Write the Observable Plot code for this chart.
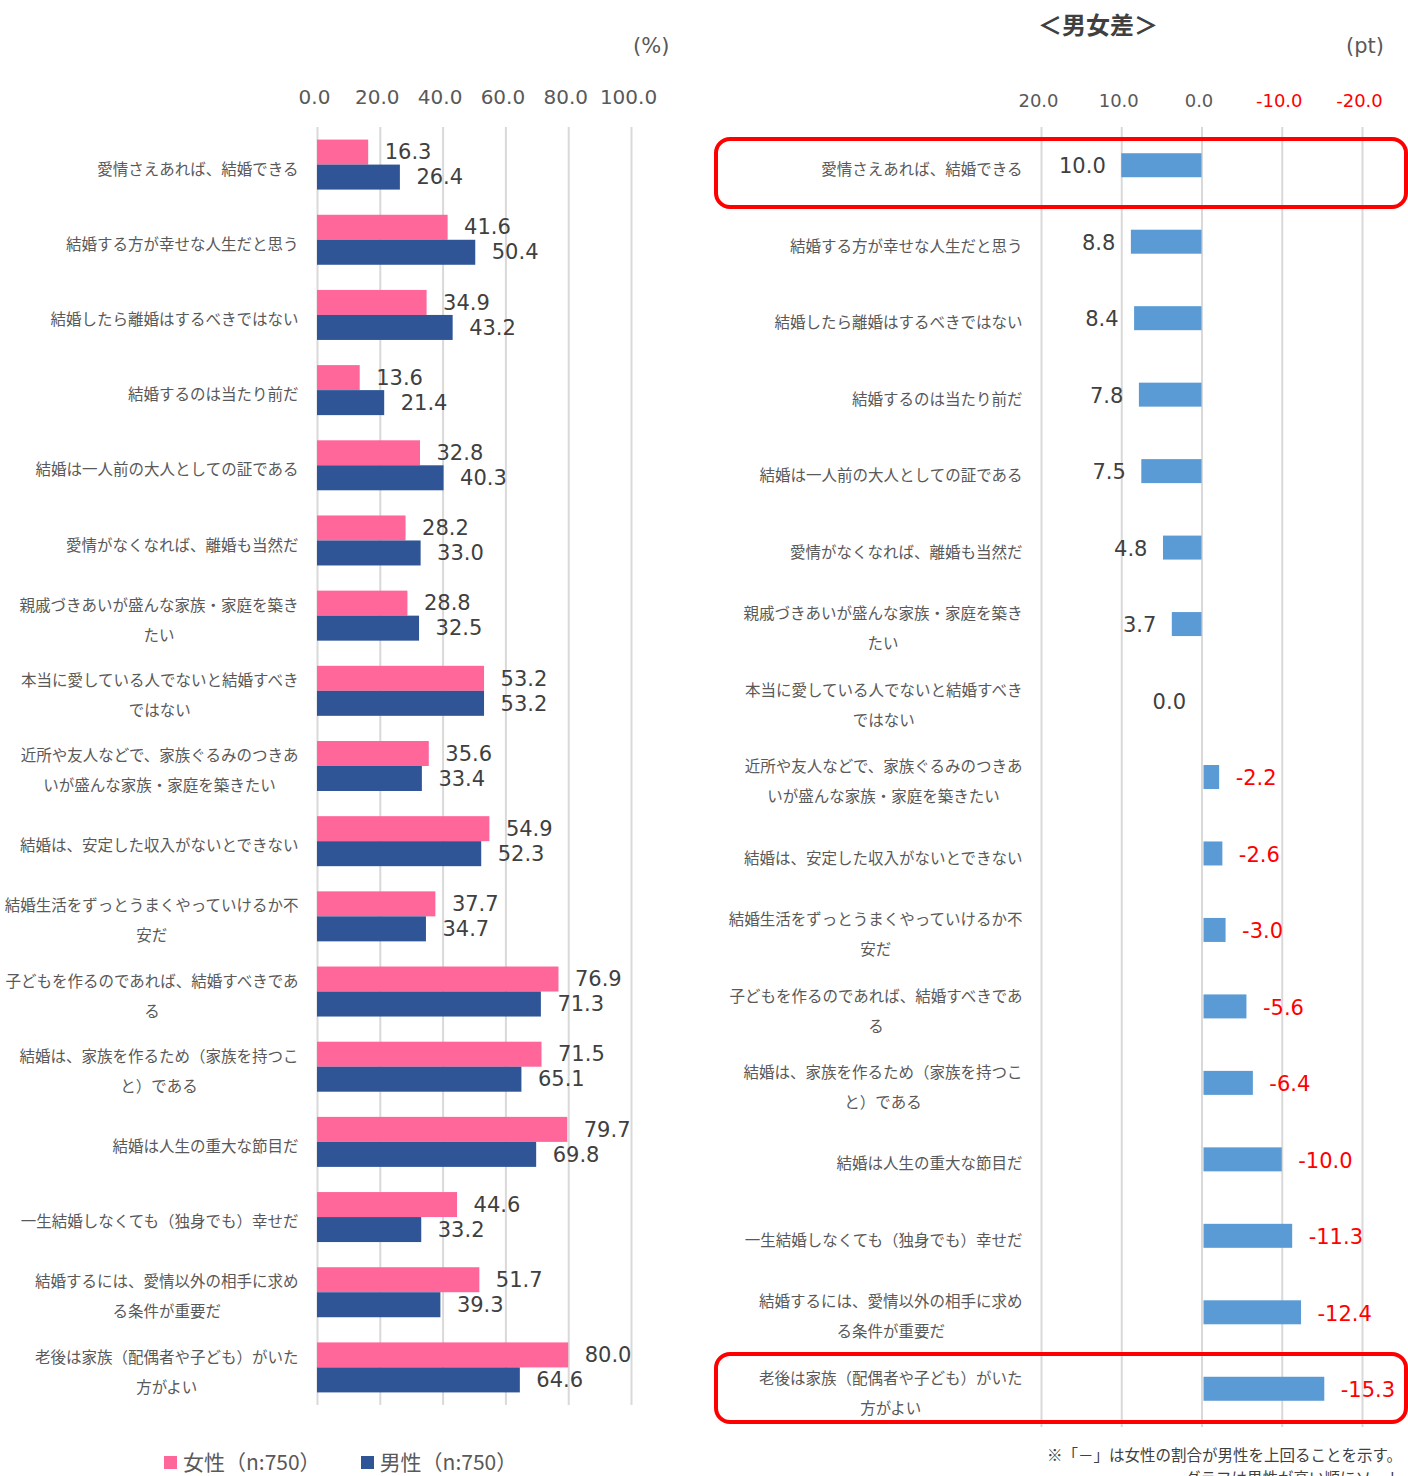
<!DOCTYPE html>
<html>
<head>
<meta charset="utf-8">
<script src="https://cdn.jsdelivr.net/npm/d3@7"></script>
<script src="https://cdn.jsdelivr.net/npm/@observablehq/plot@0.6"></script>
<style>
  html, body { margin: 0; padding: 0; background: #ffffff; }
  #root { position: relative; width: 1408px; height: 1476px; overflow: hidden; background: #fff;
          font-family: "Noto Sans CJK JP", "Noto Sans", sans-serif; color: #595959; }
  .abs { position: absolute; white-space: nowrap; }
  .sw { display: inline-block; width: 13px; height: 13px; margin-right: 6px; vertical-align: 1px; }
</style>
</head>
<body>
<div id="root">
  <div class="abs" style="left:633px; top:33px; font-size:21px; line-height:26px; font-family:'DejaVu Sans'; color:#595959;">(%)</div>
  <div class="abs" style="left:1000px; width:196px; text-align:center; top:6px; font-size:24px; font-weight:bold; color:#404040;">＜男女差＞</div>
  <div class="abs" style="left:1346px; top:33px; font-size:21px; line-height:26px; font-family:'DejaVu Sans'; color:#595959;">(pt)</div>
  <div id="left" class="abs" style="left:0; top:0;"></div>
  <div id="right" class="abs" style="left:700px; top:0;"></div>
  <div class="abs" style="left:164px; top:1449px; font-size:21px; line-height:24px; color:#595959;">
    <span class="sw" style="background:#FF6699"></span>女性（n:750）<span style="display:inline-block;width:40px"></span><span class="sw" style="background:#2F5597"></span>男性（n:750）
  </div>
  <div class="abs" style="right:6px; top:1443px; font-size:15.5px; line-height:23px; color:#404040; text-align:right;">※「－」は女性の割合が男性を上回ることを示す。<br>グラフは男性が高い順にソート</div>
</div>
<script>
// ---- data ----
const categories = [
  "愛情さえあれば、結婚できる",
  "結婚する方が幸せな人生だと思う",
  "結婚したら離婚はするべきではない",
  "結婚するのは当たり前だ",
  "結婚は一人前の大人としての証である",
  "愛情がなくなれば、離婚も当然だ",
  "親戚づきあいが盛んな家族・家庭を築き\nたい",
  "本当に愛している人でないと結婚すべき\nではない",
  "近所や友人などで、家族ぐるみのつきあ\nいが盛んな家族・家庭を築きたい",
  "結婚は、安定した収入がないとできない",
  "結婚生活をずっとうまくやっていけるか不\n安だ",
  "子どもを作るのであれば、結婚すべきであ\nる",
  "結婚は、家族を作るため（家族を持つこ\nと）である",
  "結婚は人生の重大な節目だ",
  "一生結婚しなくても（独身でも）幸せだ",
  "結婚するには、愛情以外の相手に求め\nる条件が重要だ",
  "老後は家族（配偶者や子ども）がいた\n方がよい"
];
const female = [16.3, 41.6, 34.9, 13.6, 32.8, 28.2, 28.8, 53.2, 35.6, 54.9, 37.7, 76.9, 71.5, 79.7, 44.6, 51.7, 80.0];
const male   = [26.4, 50.4, 43.2, 21.4, 40.3, 33.0, 32.5, 53.2, 33.4, 52.3, 34.7, 71.3, 65.1, 69.8, 33.2, 39.3, 64.6];
const diff   = [10.0, 8.8, 8.4, 7.8, 7.5, 4.8, 3.7, 0.0, -2.2, -2.6, -3.0, -5.6, -6.4, -10.0, -11.3, -12.4, -15.3];
const leftTicks  = [0, 20, 40, 60, 80, 100];
const rightTicks = [20, 10, 0, -10, -20];
const highlighted = [categories[0], categories[16]];

const PINK = "#FF6699", NAVY = "#2F5597", BLUE = "#5B9BD5";
const rows = categories.map((c, i) => ({cat: c, female: female[i], male: male[i], diff: diff[i]}));
const fmt = d => d.toFixed(1);
const numFont = "DejaVu Sans";
const cjkFont = "Noto Sans CJK JP";

// ---- left chart ----
const bandL = (1405 - 127) / categories.length;
const left = Plot.plot({
  width: 700, height: 1420,
  marginLeft: 317, marginRight: 69, marginTop: 127, marginBottom: 15,
  style: {background: "transparent", overflow: "visible"},
  x: {domain: [leftTicks[0], leftTicks[leftTicks.length - 1]], axis: null},
  y: {domain: categories, padding: 0, round: false, axis: null},
  marks: [
    Plot.gridX(leftTicks, {stroke: "#d9d9d9", strokeWidth: 2, strokeOpacity: 1}),
    Plot.barX(rows, {y: "cat", x: "female", fill: PINK, insetTop: bandL / 2 - 25, insetBottom: bandL / 2}),
    Plot.barX(rows, {y: "cat", x: "male", fill: NAVY, insetTop: bandL / 2, insetBottom: bandL / 2 - 25}),
    Plot.text(rows, {y: "cat", x: "female", text: d => fmt(d.female), textAnchor: "start", dx: 16, dy: -12.5,
      fontSize: 21, fontFamily: numFont, fill: "#404040"}),
    Plot.text(rows, {y: "cat", x: "male", text: d => fmt(d.male), textAnchor: "start", dx: 16, dy: 12.5,
      fontSize: 21, fontFamily: numFont, fill: "#404040"}),
    Plot.axisX(leftTicks, {anchor: "top", label: null, tickSize: 0, tickPadding: 24, dx: -3, tickFormat: fmt,
      fontSize: 20, fontFamily: numFont, fill: "#595959"}),
    Plot.axisY({anchor: "left", label: null, tickSize: 0, tickPadding: 19, fontSize: 15.5, lineHeight: 1.935,
      fontFamily: cjkFont, fill: "#595959"})
  ]
});
document.getElementById("left").appendChild(left);

// ---- right chart ----
const bandR = (1427 - 127) / categories.length;
const xr0 = rightTicks[0], xr1 = rightTicks[rightTicks.length - 1];
const right = Plot.plot({
  width: 708, height: 1440,
  marginLeft: 341, marginRight: 46, marginTop: 127, marginBottom: 13,
  style: {background: "transparent", overflow: "visible"},
  x: {domain: [xr0, xr1], axis: null},
  y: {domain: categories, padding: 0, round: false, axis: null},
  marks: [
    Plot.gridX(rightTicks, {stroke: "#d9d9d9", strokeWidth: 2, strokeOpacity: 1}),
    Plot.barX(rows.filter(d => d.diff >= 0), {y: "cat", x: "diff", fill: BLUE,
      insetTop: bandR / 2 - 12, insetBottom: bandR / 2 - 12}),
    Plot.barX(rows.filter(d => d.diff < 0), {y: "cat", x: "diff", fill: BLUE, insetLeft: 2,
      insetTop: bandR / 2 - 12, insetBottom: bandR / 2 - 12}),
    Plot.text(rows.filter(d => d.diff >= 0), {y: "cat", x: "diff", text: d => fmt(d.diff), textAnchor: "end", dx: -16, dy: 1,
      fontSize: 21, fontFamily: numFont, fill: "#404040"}),
    Plot.text(rows.filter(d => d.diff < 0), {y: "cat", x: "diff", text: d => fmt(d.diff), textAnchor: "start", dx: 16, dy: 1,
      fontSize: 21, fontFamily: numFont, fill: "#FF0000"}),
    Plot.barX([{cat: highlighted[0]}], {y: "cat", x1: () => xr0, x2: () => xr1,
      insetLeft: -325, insetRight: -44, insetTop: 12, insetBottom: -3.5, rx: 14,
      fill: "none", stroke: "#FF0000", strokeWidth: 4}),
    Plot.barX([{cat: highlighted[1]}], {y: "cat", x1: () => xr0, x2: () => xr1,
      insetLeft: -325, insetRight: -44, insetTop: 3.5, insetBottom: 5, rx: 14,
      fill: "none", stroke: "#FF0000", strokeWidth: 4}),
    Plot.axisX(rightTicks.filter(d => d >= 0), {anchor: "top", label: null, tickSize: 0, tickPadding: 21, dx: -3, tickFormat: fmt,
      fontSize: 18, fontFamily: numFont, fill: "#595959"}),
    Plot.axisX(rightTicks.filter(d => d < 0), {anchor: "top", label: null, tickSize: 0, tickPadding: 21, dx: -3, tickFormat: fmt,
      fontSize: 18, fontFamily: numFont, fill: "#FF0000"}),
    Plot.axisY({anchor: "left", label: null, tickSize: 0, tickPadding: 19, fontSize: 15.5, lineHeight: 1.935,
      fontFamily: cjkFont, fill: "#595959"})
  ]
});
document.getElementById("right").appendChild(right);

// center the wrapped lines of each category label on its longest line (Excel style)
function centerLines(svg) {
  svg.querySelectorAll('g[aria-label="y-axis tick label"] text').forEach(t => {
    const spans = Array.from(t.querySelectorAll("tspan"));
    if (spans.length < 2) return;
    const widths = spans.map(s => s.getComputedTextLength());
    const maxW = Math.max(...widths);
    spans.forEach((s, i) => s.setAttribute("x", String(-(maxW - widths[i]) / 2)));
  });
}
centerLines(left); centerLines(right);
if (document.fonts && document.fonts.ready) document.fonts.ready.then(() => { centerLines(left); centerLines(right); });
</script>
</body>
</html>
